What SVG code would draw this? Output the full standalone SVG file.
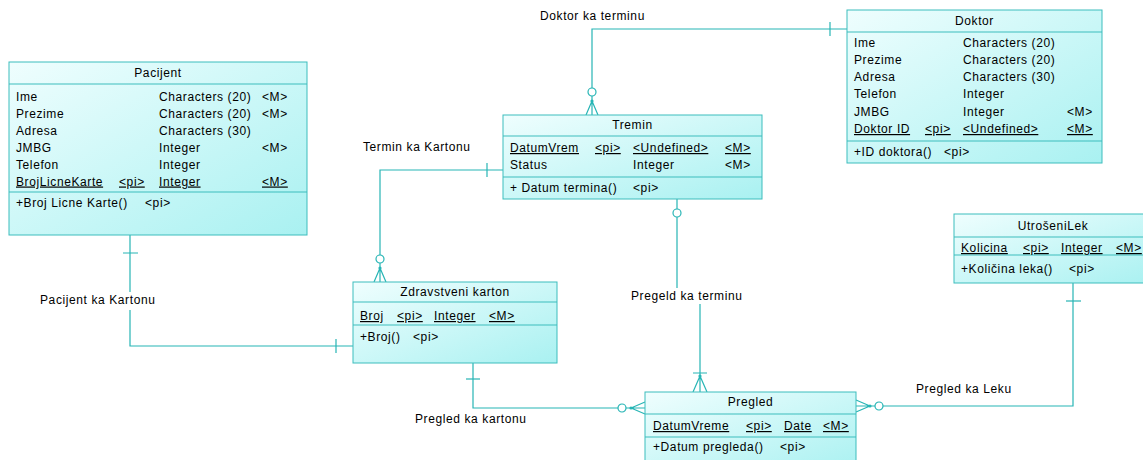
<svg xmlns="http://www.w3.org/2000/svg" xmlns:xlink="http://www.w3.org/1999/xlink" width="1143" height="460" viewBox="0 0 1143 460">
  <style>
    text { font-family: "Liberation Sans", Arial, sans-serif; font-size: 12px; letter-spacing: 0.6px; fill: #000; }
    .title { text-anchor: middle; }
    .u { text-decoration: underline; }
    .box { fill: url(#entFill); stroke: #3dbdbd; stroke-width: 1; }
    .sep { stroke: #3dbdbd; stroke-width: 1; fill: none; }
    .ln { stroke: #27b5b5; stroke-width: 1.2; fill: none; }
    .dot { fill: #27b5b5; }
    .ring { fill: #fff; stroke: #27b5b5; stroke-width: 1.2; }
  </style>
  <defs>
    <linearGradient id="entFill" x1="0" y1="0" x2="1" y2="1">
      <stop offset="0" stop-color="#effefe"/>
      <stop offset="1" stop-color="#a9f1f1"/>
    </linearGradient>
    <!-- zero-or-many end: entity edge at origin, line arriving from -y -->
    <g id="manyOpt">
      <path class="ln" d="M0,-23 V0 M0,-14 L-6,0 M0,-14 L6,0"/>
      <circle class="dot" cx="0" cy="-14" r="1.6"/>
      <circle class="ring" cx="0" cy="-23" r="4"/>
    </g>
    <!-- one-or-many end -->
    <g id="manyMand">
      <path class="ln" d="M0,-22 V0 M0,-16 L-7,0 M0,-16 L7,0 M-7,-19 H7"/>
      <circle class="dot" cx="0" cy="-16" r="1.6"/>
    </g>
  </defs>

  <rect width="1143" height="460" fill="#fff"/>

  <!-- relationships -->
  <g id="connectors">
    <!-- Doktor ka terminu -->
    <path class="ln" d="M847,29 H592 V91"/>
    <path class="ln" d="M830,22 V36"/>
    <use xlink:href="#manyOpt" transform="translate(592,115)"/>
    <text x="540" y="20">Doktor ka terminu</text>

    <!-- Termin ka Kartonu -->
    <path class="ln" d="M503,170 H380 V257"/>
    <path class="ln" d="M487,163 V177"/>
    <use xlink:href="#manyOpt" transform="translate(380,282)"/>
    <text x="363" y="151">Termin ka Kartonu</text>

    <!-- Pacijent ka Kartonu -->
    <path class="ln" d="M130,235 V292 M130,310 V346 H353"/>
    <path class="ln" d="M123,253 H138 M336,339 V353"/>
    <text x="40" y="304">Pacijent ka Kartonu</text>

    <!-- Pregled ka kartonu -->
    <path class="ln" d="M473,363 V408 H623"/>
    <path class="ln" d="M466,379 H480"/>
    <use xlink:href="#manyOpt" transform="translate(645,408) rotate(-90)"/>
    <text x="415" y="423">Pregled ka kartonu</text>

    <!-- Pregeld ka terminu -->
    <path class="ln" d="M677,199 V209 M677,217 V288 M700,304 V370"/>
    <circle class="ring" cx="677" cy="213" r="4"/>
    <use xlink:href="#manyMand" transform="translate(700,392)"/>
    <text x="631" y="300">Pregeld ka terminu</text>

    <!-- Pregled ka Leku -->
    <path class="ln" d="M879,406 H1073 V283"/>
    <path class="ln" d="M1066,301 H1081"/>
    <use xlink:href="#manyOpt" transform="translate(856,406) rotate(90)"/>
    <text x="916" y="393">Pregled ka Leku</text>
  </g>

  <!-- Pacijent -->
  <g id="pacijent">
    <rect class="box" x="9" y="62" width="298" height="173"/>
    <path class="sep" d="M9,84 H307 M9,192 H307"/>
    <text class="title" x="158" y="77">Pacijent</text>
    <text x="16" y="100.5">Ime</text>
    <text x="159" y="100.5">Characters (20)</text>
    <text x="262" y="100.5">&lt;M&gt;</text>
    <text x="16" y="117.5">Prezime</text>
    <text x="159" y="117.5">Characters (20)</text>
    <text x="262" y="117.5">&lt;M&gt;</text>
    <text x="16" y="134.5">Adresa</text>
    <text x="159" y="134.5">Characters (30)</text>
    <text x="16" y="151.5">JMBG</text>
    <text x="159" y="151.5">Integer</text>
    <text x="262" y="151.5">&lt;M&gt;</text>
    <text x="16" y="168.5">Telefon</text>
    <text x="159" y="168.5">Integer</text>
    <text class="u" x="16" y="185.5">BrojLicneKarte</text>
    <text class="u" x="119" y="185.5">&lt;pi&gt;</text>
    <text class="u" x="159" y="185.5">Integer</text>
    <text class="u" x="262" y="185.5">&lt;M&gt;</text>
    <text x="16" y="207">+Broj Licne Karte()</text>
    <text x="145" y="207">&lt;pi&gt;</text>
  </g>

  <!-- Tremin -->
  <g id="tremin">
    <rect class="box" x="503" y="115" width="259" height="84"/>
    <path class="sep" d="M503,136 H762 M503,177 H762"/>
    <text class="title" x="632.5" y="129">Tremin</text>
    <text class="u" x="510" y="152">DatumVrem</text>
    <text class="u" x="595" y="152">&lt;pi&gt;</text>
    <text class="u" x="633" y="152">&lt;Undefined&gt;</text>
    <text class="u" x="725" y="152">&lt;M&gt;</text>
    <text x="510" y="168.5">Status</text>
    <text x="633" y="168.5">Integer</text>
    <text x="725" y="168.5">&lt;M&gt;</text>
    <text x="510" y="192">+ Datum termina()</text>
    <text x="633" y="192">&lt;pi&gt;</text>
  </g>

  <!-- Doktor -->
  <g id="doktor">
    <rect class="box" x="847" y="10" width="255" height="153"/>
    <path class="sep" d="M847,32 H1102 M847,141 H1102"/>
    <text class="title" x="974.5" y="25">Doktor</text>
    <text x="854" y="47">Ime</text>
    <text x="963" y="47">Characters (20)</text>
    <text x="854" y="64">Prezime</text>
    <text x="963" y="64">Characters (20)</text>
    <text x="854" y="81">Adresa</text>
    <text x="963" y="81">Characters (30)</text>
    <text x="854" y="98">Telefon</text>
    <text x="963" y="98">Integer</text>
    <text x="854" y="115.5">JMBG</text>
    <text x="963" y="115.5">Integer</text>
    <text x="1067" y="115.5">&lt;M&gt;</text>
    <text class="u" x="854" y="133">Doktor ID</text>
    <text class="u" x="925" y="133">&lt;pi&gt;</text>
    <text class="u" x="963" y="133">&lt;Undefined&gt;</text>
    <text class="u" x="1067" y="133">&lt;M&gt;</text>
    <text x="854" y="155.5">+ID doktora()</text>
    <text x="944" y="155.5">&lt;pi&gt;</text>
  </g>

  <!-- Zdravstveni karton -->
  <g id="zdravstveni-karton">
    <rect class="box" x="353" y="282" width="204" height="81"/>
    <path class="sep" d="M353,302 H557 M353,325 H557"/>
    <text class="title" x="455" y="296">Zdravstveni karton</text>
    <text class="u" x="360" y="320">Broj</text>
    <text class="u" x="397" y="320">&lt;pi&gt;</text>
    <text class="u" x="434" y="320">Integer</text>
    <text class="u" x="489" y="320">&lt;M&gt;</text>
    <text x="360" y="341">+Broj()</text>
    <text x="413" y="341">&lt;pi&gt;</text>
  </g>

  <!-- Pregled -->
  <g id="pregled">
    <rect class="box" x="645" y="392" width="211" height="80"/>
    <path class="sep" d="M645,414 H856 M645,437 H856"/>
    <text class="title" x="750.5" y="406">Pregled</text>
    <text class="u" x="653" y="430">DatumVreme</text>
    <text class="u" x="746" y="430">&lt;pi&gt;</text>
    <text class="u" x="784" y="430">Date</text>
    <text class="u" x="823" y="430">&lt;M&gt;</text>
    <text x="653" y="451">+Datum pregleda()</text>
    <text x="780" y="451">&lt;pi&gt;</text>
  </g>

  <!-- UtrošeniLek -->
  <g id="utroseni-lek">
    <rect class="box" x="954" y="214" width="198" height="69"/>
    <path class="sep" d="M954,237 H1152 M954,255 H1152"/>
    <text class="title" x="1053" y="230">UtrošeniLek</text>
    <text class="u" x="961" y="252">Kolicina</text>
    <text class="u" x="1023" y="252">&lt;pi&gt;</text>
    <text class="u" x="1061" y="252">Integer</text>
    <text class="u" x="1116" y="252">&lt;M&gt;</text>
    <text x="961" y="273">+Količina leka()</text>
    <text x="1069" y="273">&lt;pi&gt;</text>
  </g>
</svg>
